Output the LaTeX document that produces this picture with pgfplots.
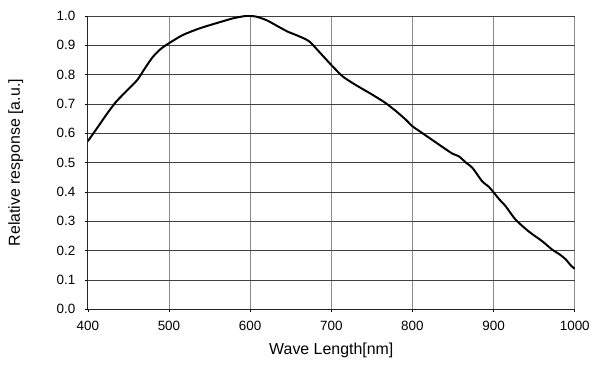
\documentclass[border=0pt]{standalone}
\usepackage{pgfplots}
\pgfplotsset{compat=1.18}
\usepackage{fontspec}
\setmainfont{Liberation Sans}
\begin{document}
\begin{tikzpicture}
\begin{axis}[
  scale only axis,
  width=488bp, height=294bp,
  xmin=400, xmax=1000, ymin=0, ymax=1.0,
  axis x line=bottom, axis y line=left,
  axis line style={-, black!85, line width=0.9pt},
  xtick={400,500,...,1000},
  ytick={0,0.1,...,1.0},
  /pgf/number format/set thousands separator={},
  /pgf/number format/assume math mode=true,
  yticklabel style={/pgf/number format/fixed, /pgf/number format/fixed zerofill, /pgf/number format/precision=1, anchor=east, xshift=-6bp},
  xticklabel style={anchor=north, yshift=-5bp},
  ticklabel style={font=\fontsize{13.5}{15}\selectfont},
  grid=major,
  major x grid style={black!45, line width=0.7pt},
  major y grid style={black!75, line width=0.7pt},
  tick style={black, line width=0.6pt},
  tick align=outside,
  major tick length=3bp,
  xlabel={Wave Length[nm]},
  ylabel={Relative response [a.u.]},
  label style={font=\fontsize{16}{18}\selectfont},
  xlabel style={at={(axis description cs:0.5,-0.139)}, anchor=center},
  ylabel style={at={(axis description cs:-0.148,0.5)}, anchor=center},
]
\addplot[black, line width=2pt, smooth, tension=0.4] coordinates {
(400,0.573) (412,0.62) (424,0.668) (435,0.708) (448,0.745) (461,0.782)
(470,0.82) (480,0.86) (490,0.888) (500,0.907) (517,0.935) (538,0.958)
(558,0.975) (579,0.992) (595,1.0) (607,0.998) (620,0.986) (632,0.968)
(646,0.947) (661,0.930) (673,0.913) (686,0.875) (700,0.833) (714,0.794)
(730,0.765) (751,0.731) (767,0.703) (780,0.675) (792,0.646) (800,0.624)
(812,0.601) (822,0.582) (833,0.561) (849,0.531) (857,0.522) (866,0.500)
(874,0.482) (886,0.436) (894,0.418) (899,0.402) (907,0.375) (915,0.351)
(927,0.306) (943,0.266) (960,0.232) (972,0.204) (982,0.186) (989,0.170)
(995,0.150) (1000,0.138)
};
\coordinate (ll) at (rel axis cs:0,0);
\coordinate (ur) at (rel axis cs:1,1);
\end{axis}
\path ([shift={(-88bp,-55bp)}]ll) rectangle ([shift={(17bp,16bp)}]ur);
\end{tikzpicture}
\end{document}
